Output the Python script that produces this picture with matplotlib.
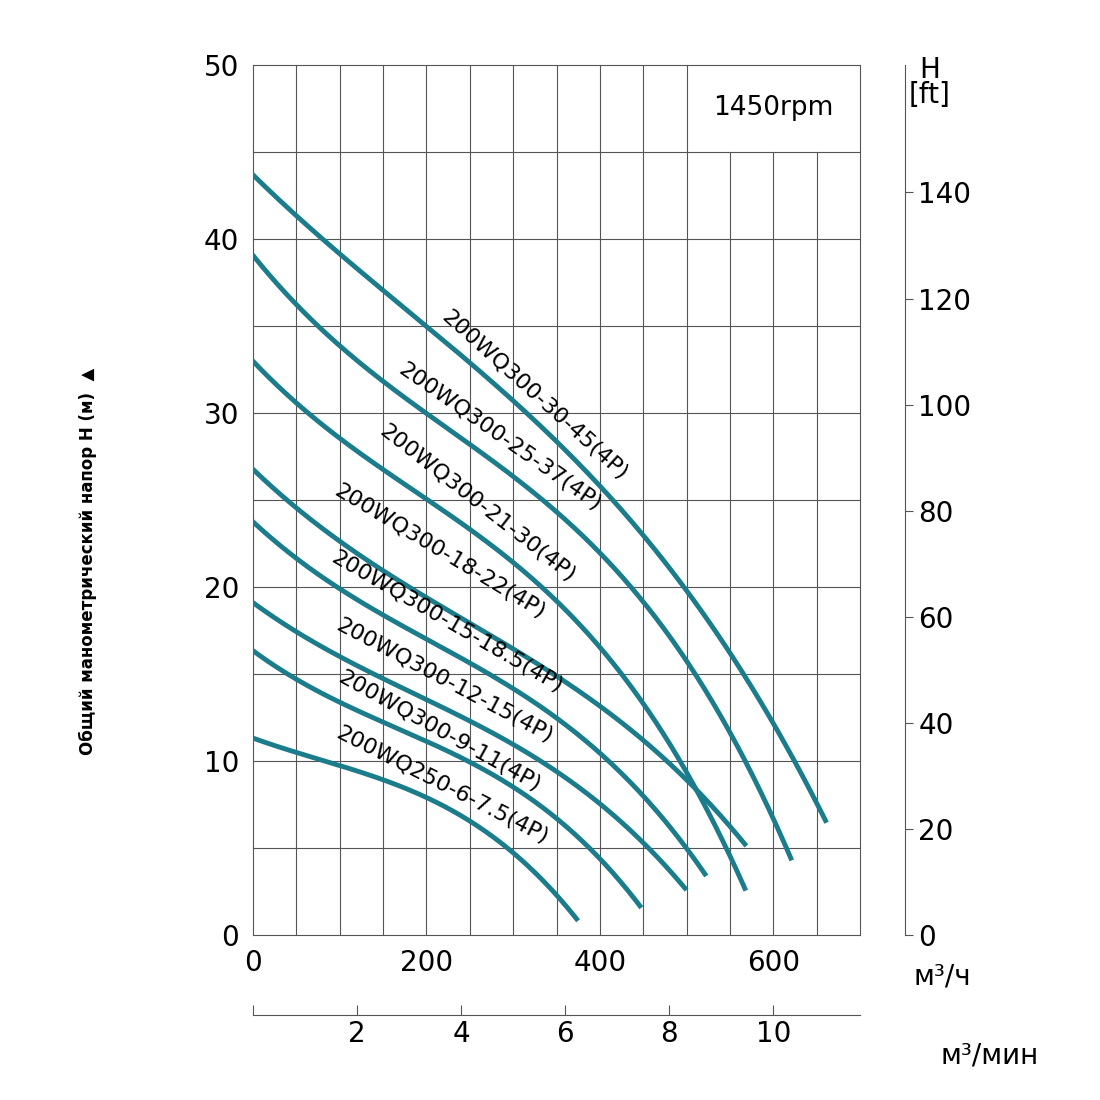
import numpy as np
import matplotlib.pyplot as plt

# performance curves: Q (m3/h) vs H (m)
names = ["200WQ300-30-45(4P)", "200WQ300-25-37(4P)", "200WQ300-21-30(4P)",
         "200WQ300-18-22(4P)", "200WQ300-15-18.5(4P)", "200WQ300-12-15(4P)",
         "200WQ300-9-11(4P)", "200WQ250-6-7.5(4P)"]
q_pts = [
    [0, 100, 200, 300, 400, 500, 600, 660],
    [0, 100, 200, 300, 400, 450, 500, 550, 620],
    [0, 100, 200, 300, 400, 450, 500, 567],
    [0, 100, 200, 300, 400, 500, 567],
    [0, 100, 200, 300, 400, 470, 521],
    [0, 100, 200, 300, 400, 498],
    [0, 100, 200, 300, 400, 446],
    [0, 100, 200, 300, 373],
]
h_pts = [
    [43.5, 39.5, 35, 30.5, 25.5, 20, 12.5, 6.3],
    [39, 34, 30, 26, 22, 19.5, 16, 11, 4.6],
    [33, 28.5, 25, 21.5, 16.5, 13.5, 9, 2.8],
    [26.8, 22.5, 19.5, 16.5, 13, 9, 5.2],
    [23.7, 20, 17, 14, 10.5, 7, 3.4],
    [19.1, 16, 13.5, 11, 7.5, 2.7],
    [16.3, 13.5, 11, 8.5, 4.5, 1.6],
    [11.3, 9.8, 7.8, 4.8, 0.9],
]
label_q = [325, 285, 259, 215, 224, 221, 215, 218]
label_h = [31.0, 28.6, 24.8, 22.0, 18.0, 14.6, 11.7, 8.6]
label_rot = [-42, -35, -38, -31, -30, -28, -29, -27]

color = '#1b7d8c'
fig = plt.figure(figsize=(11, 11), dpi=100)
ax = fig.add_axes([0.23, 0.15, 0.552, 0.791])
ax.set_xlim(0, 700)
ax.set_ylim(0, 50)

# grid (top-right cell left open for the rpm box)
for x in range(50, 700, 50):
    top = 45 if x > 500 else 50
    ax.plot([x, x], [0, top], color='#555555', lw=0.8, zorder=1)
for y in range(5, 50, 5):
    ax.axhline(y, color='#555555', lw=0.8, zorder=1)
ax.text(600, 47.5, "1450rpm", fontsize=19, ha='center', va='center')

for q, h in zip(q_pts, h_pts):
    qs = np.linspace(q[0], q[-1], 200)
    coef = np.polyfit(q, h, 3)
    ax.plot(qs, np.polyval(coef, qs), color=color, lw=3.5, zorder=3)
for n, lq, lh, r in zip(names, label_q, label_h, label_rot):
    ax.text(lq, lh, n, fontsize=16, rotation=r, ha='center', va='center',
            rotation_mode='anchor', zorder=4)

ax.set_xticks([0, 200, 400, 600])
ax.set_yticks(range(0, 51, 10))
ax.tick_params(labelsize=20, length=0, pad=10)
for s in ax.spines.values():
    s.set_color('#555555')
    s.set_linewidth(0.8)

# right axis in ft
ax2 = ax.twinx()
ax2.set_ylim(0, 50 / 0.3048)
ax2.spines['right'].set_position(('axes', 1.074))
for s in ['top', 'left', 'bottom']:
    ax2.spines[s].set_visible(False)
ax2.spines['right'].set_color('#555555')
ax2.set_yticks(range(0, 141, 20))
ax2.tick_params(labelsize=20, length=6, color='#555555')
fig.text(0.845, 0.925, "H\n[ft]", fontsize=20, ha='center', va='center', linespacing=0.9)

# bottom axis in m3/min
sec = ax.secondary_xaxis(-0.092, functions=(lambda v: v / 60, lambda v: v * 60))
sec.set_xticks([0, 2, 4, 6, 8, 10])
sec.set_xticklabels(['', '2', '4', '6', '8', '10'])
sec.tick_params(labelsize=20, direction='in', length=7, color='#555555')
sec.spines['bottom'].set_color('#555555')

fig.text(0.83, 0.112, "м³/ч", fontsize=20, va='center')
fig.text(0.855, 0.04, "м³/мин", fontsize=20, va='center')
fig.text(0.08, 0.49, "Общий манометрический напор H (м)  ▲", fontsize=12,
         fontweight='bold', rotation=90, ha='center', va='center')

fig.savefig('out.png')
